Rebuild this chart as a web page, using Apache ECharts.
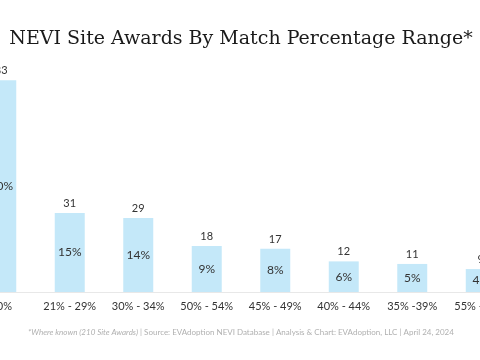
<!DOCTYPE html>
<html>
<head>
<meta charset="utf-8">
<script src="https://cdn.jsdelivr.net/npm/echarts@6/dist/echarts.min.js"></script>
<style>html,body{margin:0;padding:0;background:#fff;overflow:hidden;width:480px;height:360px}#c{position:absolute;left:-33px;top:0;width:548px;height:360px}</style>
</head>
<body>
<div id="c"></div>
<script>
var categories = ["20%", "21% - 29%", "30% - 34%", "50% - 54%", "45% - 49%", "40% - 44%", "35% -39%", "55% - 59%"];
var counts = [83, 31, 29, 18, 17, 12, 11, 9];
var percents = ["40%", "15%", "14%", "9%", "8%", "6%", "5%", "4%"];
var titleText = "NEVI Site Awards By Match Percentage Range*";
var footItalic = "*Where known (210 Site Awards)";
var footRest = " | Source: EVAdoption NEVI Database | Analysis & Chart: EVAdoption, LLC | April 24, 2024";

var chart = echarts.init(document.getElementById('c'), null, {renderer: 'canvas'});
chart.setOption({
  animation: false,
  backgroundColor: '#ffffff',
  title: {
    text: titleText,
    left: 'center',
    top: 25,
    textStyle: {fontFamily: 'DejaVu Serif', fontWeight: 'normal', fontSize: 19, color: '#1a1a1a'}
  },
  graphic: [{
    type: 'text',
    left: 'center',
    top: 328,
    style: {
      rich: {
        i: {fontStyle: 'italic', fontSize: 8, fontFamily: 'Lato', fill: '#b0b0b0'},
        n: {fontSize: 8, fontFamily: 'Lato', fill: '#b0b0b0'}
      },
      text: '{i|' + footItalic + '}{n|' + footRest + '}'
    }
  }],
  grid: {left: 0, right: 0, top: 37, bottom: 68, containLabel: false},
  xAxis: {
    type: 'category',
    data: categories,
    axisLine: {show: true, lineStyle: {color: '#e8e8e8', width: 1}},
    axisTick: {show: false},
    axisLabel: {color: '#333', fontSize: 11, fontFamily: 'Lato', margin: 9, interval: 0}
  },
  yAxis: {type: 'value', min: 0, max: 100, show: false, splitLine: {show: false}},
  series: [{
    type: 'bar',
    data: counts,
    barWidth: 30,
    itemStyle: {color: '#c4e8f9'},
    label: {show: true, position: 'top', distance: 4, color: '#333', fontSize: 11, fontFamily: 'Lato'}
  }, {
    type: 'bar',
    data: counts,
    barWidth: 30,
    barGap: '-100%',
    itemStyle: {color: 'rgba(0,0,0,0)'},
    label: {show: true, position: 'inside', color: '#333', fontSize: 12, fontFamily: 'Lato',
      formatter: function (p) { return percents[p.dataIndex]; }}
  }]
});
</script>
</body>
</html>
